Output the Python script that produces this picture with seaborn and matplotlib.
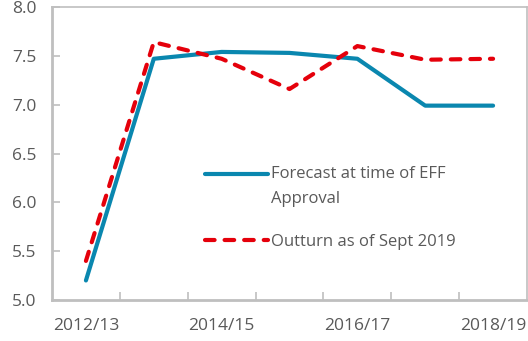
import matplotlib
matplotlib.use("Agg")
import matplotlib.pyplot as plt
import seaborn as sns
import pandas as pd

years = ["2012/13", "2013/14", "2014/15", "2015/16", "2016/17", "2017/18", "2018/19"]
forecast = [5.20, 7.47, 7.54, 7.53, 7.47, 6.99, 6.99]
outturn = [5.40, 7.64, 7.47, 7.16, 7.60, 7.46, 7.47]
label_years = ["2012/13", "2014/15", "2016/17", "2018/19"]

sns.set_theme(style="white")
plt.rcParams["font.family"] = ["Open Sans", "DejaVu Sans"]

grey_text = "#595959"
grey_line = "#bfbfbf"
blue = "#0a87af"
red = "#e5000b"

df = pd.DataFrame({"year": years, "forecast": forecast, "outturn": outturn})
df["pos"] = range(len(years))

fig = plt.figure(figsize=(5.28, 3.41), dpi=100)
ax = fig.add_axes([52 / 528, 41 / 341, 475 / 528, 293 / 341])

sns.lineplot(data=df, x="pos", y="forecast", ax=ax, color=blue, lw=3.0,
             label="Forecast at time of EFF\nApproval", solid_capstyle="round")
sns.lineplot(data=df, x="pos", y="outturn", ax=ax, color=red, lw=3.0,
             linestyle=(0, (2.3, 2.4)), label="Outturn as of Sept 2019",
             dash_capstyle="round")

ax.set_xlim(-0.5, len(years) - 0.5)
ax.set_ylim(5.0, 8.0)
ax.set_yticks([5.0, 5.5, 6.0, 6.5, 7.0, 7.5, 8.0])
ax.set_yticklabels([f"{v:.1f}" for v in ax.get_yticks()])

# tick marks sit on category boundaries; labels on every other category
ax.set_xticks([i + 0.5 for i in range(len(years) - 1)])
ax.set_xticklabels([])
ax.set_xticks([years.index(y) for y in label_years], minor=True)
ax.set_xticklabels(label_years, minor=True)
ax.tick_params(axis="x", which="major", direction="in", length=6, width=1.2,
               color=grey_line, bottom=True)
ax.tick_params(axis="x", which="minor", length=0, pad=13, labelsize=12.5,
               labelcolor=grey_text)
ax.tick_params(axis="y", direction="in", length=6, width=1.2, color=grey_line,
               left=True, labelsize=12.5, labelcolor=grey_text, pad=11)

ax.set_xlabel("")
ax.set_ylabel("")
for side in ["left", "right", "top", "bottom"]:
    ax.spines[side].set_visible(True)
    ax.spines[side].set_color(grey_line)
ax.spines["left"].set_linewidth(2)
ax.spines["bottom"].set_linewidth(2)
ax.spines["top"].set_linewidth(1.2)
ax.spines["right"].set_linewidth(1.2)

leg = ax.legend(loc="upper left", bbox_to_anchor=(0.29, 0.508), frameon=False,
                handlelength=3.8, handletextpad=0.2, labelspacing=1.62,
                fontsize=12)
for t in leg.get_texts():
    t.set_color(grey_text)
    t.set_linespacing(1.75)

# put the first legend key level with the first line of its two-line label
first_key = leg.get_lines()[0]
first_key.set_ydata([y + 9.0 for y in first_key.get_ydata()])

fig.savefig("out.png", dpi=100)
